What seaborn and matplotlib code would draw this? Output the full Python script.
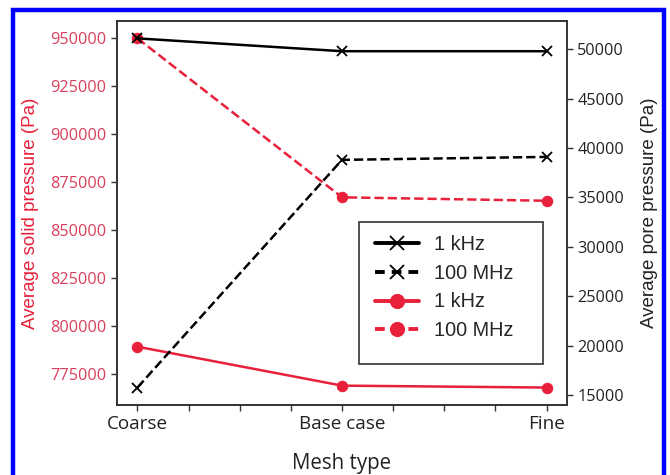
import matplotlib
matplotlib.use("Agg")
import matplotlib.pyplot as plt
import matplotlib.patches as mpatches
import numpy as np
import pandas as pd
import seaborn as sns

categories = ["Coarse", "Base case", "Fine"]
solid_1khz = [789200, 768900, 767900]
solid_100mhz = [950000, 867100, 865300]
pore_1khz = [51100, 49800, 49800]
pore_100mhz = [15750, 38800, 39100]
series_labels = ["1 kHz", "100 MHz"]
left_ticks = [775000, 800000, 825000, 850000, 875000, 900000, 925000, 950000]
right_ticks = [15000, 20000, 25000, 30000, 35000, 40000, 45000, 50000]

RED = "#e8203a"
RED_TXT = "#db3f5c"
DARK = "#222222"

sns.set_theme(style="ticks")
plt.rcParams["font.family"] = ["Open Sans", "DejaVu Sans"]

W, H = 670, 475
AX_L, AX_R, AX_T, AX_B = 117, 567, 20.7, 405
fig = plt.figure(figsize=(6.7, 4.75), dpi=100)
ax = fig.add_axes([AX_L/W, 1-AX_B/H, (AX_R-AX_L)/W, (AX_B-AX_T)/H])
ax2 = ax.twinx()

def ax_x(px):
    return (px - AX_L) / (AX_R - AX_L)

def ax_y(py):
    return (AX_B - py) / (AX_B - AX_T)

pos = np.arange(len(categories))
df = pd.DataFrame({"pos": pos, "s1": solid_1khz, "s2": solid_100mhz,
                   "p1": pore_1khz, "p2": pore_100mhz})

LW = 1.8
sns.lineplot(data=df, x="pos", y="s1", ax=ax, color=RED, marker="o", markersize=7.5,
             markeredgecolor=RED, linewidth=LW, linestyle="-", label=series_labels[0], legend=False)
sns.lineplot(data=df, x="pos", y="s2", ax=ax, color=RED, marker="o", markersize=7.5,
             markeredgecolor=RED, linewidth=LW, linestyle="--", label=series_labels[1], legend=False)
sns.lineplot(data=df, x="pos", y="p1", ax=ax2, color="black", marker="x", markersize=7.5,
             markeredgecolor="black", markeredgewidth=1.3, linewidth=LW, linestyle="-",
             label=series_labels[0], legend=False)
sns.lineplot(data=df, x="pos", y="p2", ax=ax2, color="black", marker="x", markersize=7.5,
             markeredgecolor="black", markeredgewidth=1.3, linewidth=LW, linestyle="--",
             label=series_labels[1], legend=False)

ax.set_xlim(-0.1, 2.1)
ax.set_ylim(758800, 959200)
ax2.set_ylim(13980, 52890)

xt = np.arange(0, 2.01, 0.25)
ax.set_xticks(xt)
ax.set_xticklabels([categories[int(v)] if abs(v - round(v)) < 1e-9 else "" for v in xt])
ax.set_yticks(left_ticks)
ax.set_yticklabels([str(v) for v in left_ticks])
ax2.set_yticks(right_ticks)
ax2.set_yticklabels([str(v) for v in right_ticks])

ax.tick_params(axis="y", labelcolor=RED_TXT, color="#333333", labelsize=11.7, length=4, width=1)
ax.tick_params(axis="x", labelcolor=DARK, color="#333333", labelsize=13.6, length=4, width=1)
ax2.tick_params(axis="y", labelcolor=DARK, color="#333333", labelsize=11.7, length=4, width=1)

ax.set_xlabel("Mesh type", fontsize=14.8, color=DARK, labelpad=14)
ax.set_ylabel("Average solid pressure (Pa)", fontsize=13.5, color=RED,
              family=["Liberation Sans", "DejaVu Sans"], labelpad=8)
ax2.set_ylabel("Average pore pressure (Pa)", fontsize=13.5, color=DARK,
               family=["Liberation Sans", "DejaVu Sans"], labelpad=12)

for a in (ax, ax2):
    for s in a.spines.values():
        s.set_color("#333333")
        s.set_linewidth(1.2)

h2, l2 = ax2.get_legend_handles_labels()
h1, l1 = ax.get_legend_handles_labels()
leg = ax2.legend(h2 + h1, l2 + l1, loc="center left",
                 bbox_to_anchor=(ax_x(375), ax_y(287.5)), frameon=False,
                 handlelength=2.2, handletextpad=0.75, borderpad=0, borderaxespad=0,
                 labelspacing=0.5, markerscale=1.35,
                 prop={"family": ["Liberation Sans", "DejaVu Sans"], "size": 14.3})
for ln in leg.get_lines():
    ln.set_linewidth(2.8)
    if ln.get_linestyle() in ("--", "dashed"):
        ln.set_linestyle((0, (2.5, 1.8)))

frame = mpatches.Rectangle((ax_x(359), ax_y(364)), ax_x(543) - ax_x(359), ax_y(222) - ax_y(364),
                           transform=ax2.transAxes, facecolor="white", edgecolor="#333333",
                           linewidth=1.2, zorder=4.5)
ax2.add_patch(frame)
leg.set_zorder(5)

border = mpatches.Rectangle((13/W, -0.05), (663.5-13)/W, 1.05 - 10/H,
                            transform=fig.transFigure, fill=False, edgecolor="#0000ff",
                            linewidth=3.2, clip_on=False)
fig.patches.append(border)

fig.savefig("out.png", dpi=100)
